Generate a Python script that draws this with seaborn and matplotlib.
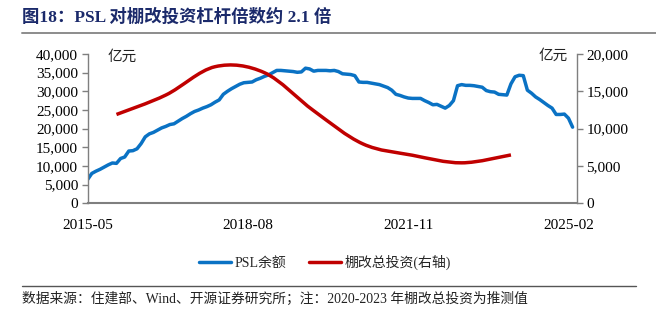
import numpy as np
import pandas as pd
import seaborn as sns
import matplotlib
matplotlib.use("Agg")
import matplotlib.pyplot as plt
from matplotlib.path import Path
from matplotlib.patches import PathPatch
from matplotlib.lines import Line2D

# ---------------- data ----------------
# PSL balance (亿元), monthly from 2015-05
psl_start = "2015-05"
psl_values = [
    6400, 8000, 8600, 9100, 9700, 10300, 10800, 10700, 12000, 12400,
    14000, 14100, 14600, 16000, 17800, 18600, 19000, 19600, 20200, 20600,
    21100, 21300, 22000, 22700, 23300, 24000, 24600, 25000, 25500, 25900,
    26400, 27100, 27700, 29200, 30000, 30700, 31300, 31900, 32300, 32400,
    32500, 33100, 33500, 34000, 34400, 35000, 35600, 35600, 35500, 35400,
    35300, 35100, 35200, 36200, 36000, 35400, 35600, 35600, 35600, 35500,
    35600, 35300, 34700, 34600, 34500, 34200, 32500, 32400, 32400, 32200,
    32000, 31800, 31400, 31000, 30300, 29200, 28900, 28500, 28200, 28100,
    28100, 28100, 27500, 27000, 26400, 26500, 26000, 25500, 26200, 27500,
    31500, 31800, 31600, 31600, 31500, 31300, 31100, 30200, 29900, 29800,
    29200, 29100, 29000, 32000, 33900, 34300, 34200, 30300, 29500, 28500,
    27800, 27000, 26200, 25500, 23800, 23800, 23900, 22800, 20400,
]
# Shantytown renovation total investment (亿元, right axis), annual (plotted at December)
inv_years = [2015, 2016, 2017, 2018, 2019, 2020, 2021, 2022, 2023]
inv_values = [11900, 14500, 18300, 17500, 12400, 7950, 6440, 5420, 6480]

x_tick_labels = ["2015-05", "2018-08", "2021-11", "2025-02"]
left_ticks = [0, 5000, 10000, 15000, 20000, 25000, 30000, 35000, 40000]
right_ticks = [0, 5000, 10000, 15000, 20000]

title_text = "图18：PSL 对棚改投资杠杆倍数约 2.1 倍"
source_text = "数据来源：住建部、Wind、开源证券研究所；注：2020-2023 年棚改总投资为推测值"
unit_text = "亿元"
legend_labels = ["PSL余额", "棚改总投资(右轴)"]

# ---------------- frames ----------------
start = pd.Period(psl_start, freq="M")
psl_df = pd.DataFrame({
    "m": np.arange(len(psl_values)),
    "v": psl_values,
})
inv_df = pd.DataFrame({
    "m": [(pd.Period(f"{y}-12", freq="M") - start).n for y in inv_years],
    "v": inv_values,
})
tick_pos = [(pd.Period(t, freq="M") - start).n for t in x_tick_labels]

BLUE = "#0A72C4"
RED = "#C00000"
GRAY = "#7F7F7F"
SERIF = ["Liberation Serif", "Noto Sans CJK SC"]
CJK = ["Noto Sans CJK SC", "Liberation Serif"]

sns.set_style("white")
plt.rcParams["font.family"] = SERIF

fig = plt.figure(figsize=(6.56, 3.22), dpi=100)
ax = fig.add_axes([87.7 / 656, 1 - 203.3 / 322, (576.7 - 87.7) / 656, (203.3 - 54) / 322])
ax2 = ax.twinx()

sns.lineplot(data=psl_df, x="m", y="v", ax=ax, color=BLUE, lw=2.5, legend=False)

# smooth (Excel-like) curve for annual investment, drawn in data coords
xs = inv_df["m"].to_numpy(float)
ys = inv_df["v"].to_numpy(float)
verts = [(xs[0], ys[0])]
codes = [Path.MOVETO]
n = len(xs)
for i in range(n - 1):
    p0 = np.array([xs[max(i - 1, 0)], ys[max(i - 1, 0)]])
    p1 = np.array([xs[i], ys[i]])
    p2 = np.array([xs[i + 1], ys[i + 1]])
    p3 = np.array([xs[min(i + 2, n - 1)], ys[min(i + 2, n - 1)]])
    c1 = p1 + (p2 - p0) / 6
    c2 = p2 - (p3 - p1) / 6
    verts += [tuple(c1), tuple(c2), tuple(p2)]
    codes += [Path.CURVE4] * 3
ax2.add_patch(PathPatch(Path(verts, codes), facecolor="none", edgecolor=RED, lw=2.5,
                        capstyle="butt", joinstyle="round"))

ax.set_xlim(0, 119)
ax.set_ylim(0, 40000)
ax2.set_ylim(0, 20000)
ax.set_xticks(tick_pos)
ax.set_xticklabels(x_tick_labels)
ax.set_yticks(left_ticks)
ax.set_yticklabels([f"{t:,}" for t in left_ticks])
ax2.set_yticks(right_ticks)
ax2.set_yticklabels([f"{t:,}" for t in right_ticks])
ax.set_xlabel("")
ax.set_ylabel("")
ax2.set_ylabel("")

for a in (ax, ax2):
    a.grid(False)
    a.spines["top"].set_visible(False)
    for s in ("left", "right", "bottom"):
        a.spines[s].set_color(GRAY)
        a.spines[s].set_linewidth(1.0)
ax.spines["right"].set_visible(False)
ax2.spines["left"].set_visible(False)
ax2.spines["bottom"].set_visible(False)
ax.spines["bottom"].set_linewidth(1.5)

ax.tick_params(axis="y", direction="out", length=4, width=1, color=GRAY, labelsize=11,
               labelcolor="black", pad=3)
ax2.tick_params(axis="y", direction="out", length=4, width=1, color=GRAY, labelsize=11,
                labelcolor="black", pad=3)
ax.tick_params(axis="x", direction="in", length=4, width=1, color=GRAY, labelsize=11,
               labelcolor="black", pad=11)
for lab in ax.get_xticklabels() + ax.get_yticklabels() + ax2.get_yticklabels():
    lab.set_family(SERIF)

ax.text(0.0415, 0.982, unit_text, transform=ax.transAxes, ha="left", va="center",
        fontsize=10.5, family=CJK, color="#222222")
ax.text(0.982, 0.99, unit_text, transform=ax.transAxes, ha="right", va="center",
        fontsize=10.5, family=CJK, color="#222222")

# title and rules
fig.text(22 / 656, 1 - 17 / 322, title_text, ha="left", va="center", fontsize=12.5,
         fontweight="bold", color="#1B2A6B", family=["Liberation Serif", "Noto Sans CJK SC"])
fig.add_artist(Line2D([22 / 656, 1.0], [1 - 33 / 322] * 2, color="#8C8C8C", lw=1.4))
fig.add_artist(Line2D([22 / 656, 636 / 656], [1 - 285.5 / 322] * 2, color="#555555", lw=1.0))
fig.text(22 / 656, 1 - 299 / 322, source_text, ha="left", va="center", fontsize=9.9,
         family=SERIF, color="#222222")

handles = [Line2D([], [], color=BLUE, lw=2.5), Line2D([], [], color=RED, lw=2.5)]
leg = fig.legend(handles, legend_labels, loc="center", bbox_to_anchor=(325 / 656, 1 - 262 / 322),
                 ncol=2, frameon=False, handlelength=2.3, handletextpad=0.3,
                 columnspacing=1.6, prop={"family": SERIF, "size": 10})

fig.savefig("out.png", dpi=100)
